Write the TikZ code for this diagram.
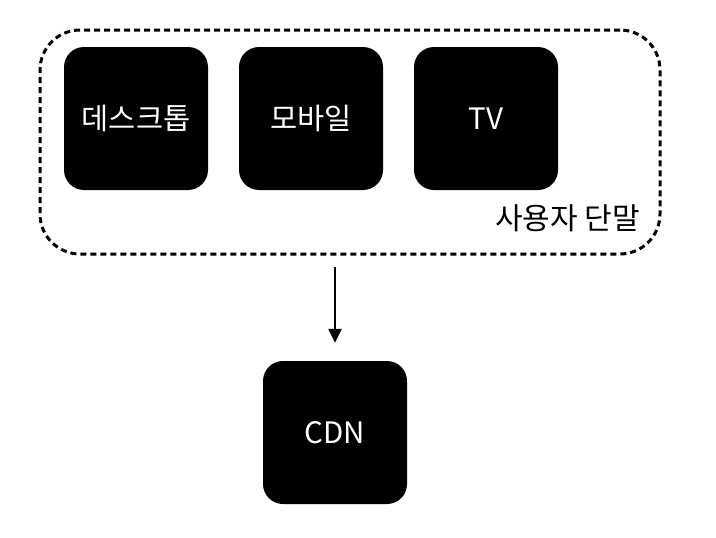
\documentclass[tikz,border=0pt]{standalone}
\usepackage{fontspec}
\newfontfamily\kr{Noto Sans CJK KR}
\usetikzlibrary{arrows.meta}
\begin{document}
\begin{tikzpicture}[x=1pt,y=-1pt,
  dev/.style={fill=black,rounded corners=20pt,minimum width=144pt,minimum height=143pt,inner sep=0pt,text=white,font=\kr\fontsize{29.5}{31}\selectfont},
  grp/.style={draw=black,line width=3pt,dash pattern=on 6pt off 4pt,rounded corners=40pt},
  arr/.style={line width=2.4pt,-{Triangle[length=14pt,width=13pt]}}]
\useasboundingbox (0,0) rectangle (716,538);
\node[grp,minimum width=620pt,minimum height=224pt,inner sep=0pt] (grp) at (350,142) {};
\node[dev] (desk) at (136,118.5) {데스크톱};
\node[dev] (mob) at (311,118.5) {모바일};
\node[dev] (tv) at (486,118.5) {TV};
\node[anchor=east,font=\kr\fontsize{30}{32}\selectfont,inner sep=0pt] (lbl) at (640,218) {사용자 단말};
\node[dev] (cdn) at (335,432.5) {CDN};
\draw[arr,shorten <=11pt,shorten >=18pt] (grp.south -| cdn.north) -- (cdn.north);
\end{tikzpicture}
\end{document}
